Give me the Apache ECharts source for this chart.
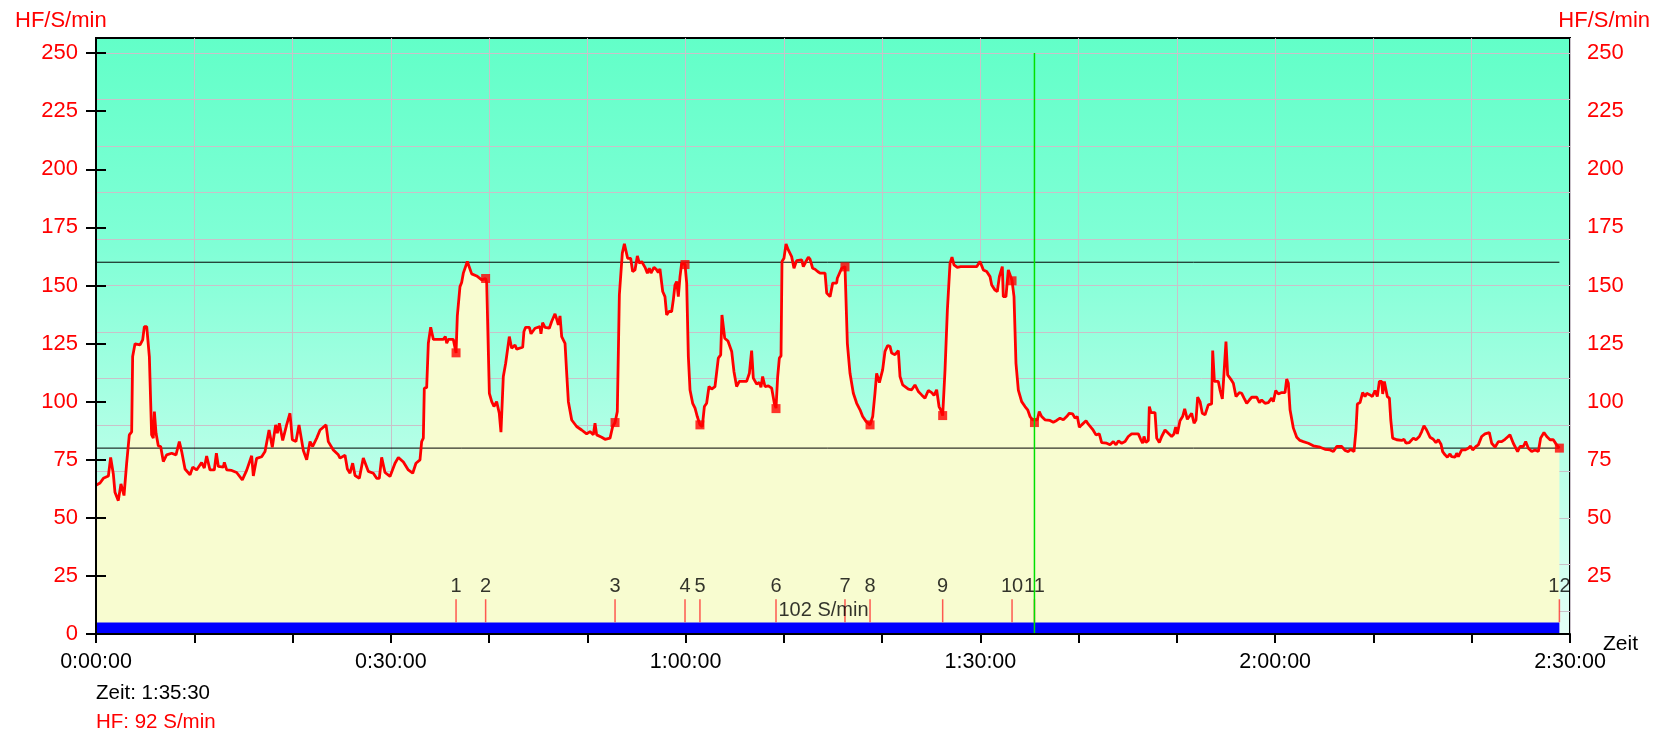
<!DOCTYPE html>
<html>
<head>
<meta charset="utf-8" />
<title>HF</title>
<script src="https://cdn.jsdelivr.net/npm/echarts@6/dist/echarts.min.js"></script>
<style>
    html, body { margin: 0; padding: 0; background: #fff; }
    #main { width: 1661px; height: 735px; }
</style>
</head>
<body>
<div id="main"></div>
<script type="text/javascript">
    // time in minutes, heart rate in S/min
    var hfData = [
        [0, 64], [0.41, 65], [0.75, 67], [1.26, 68], [1.49, 76], [1.76, 69], [1.93, 61], [2.27, 57.4], [2.54, 64.6], [2.85, 59.6],
        [3.12, 73.5], [3.39, 85.7], [3.63, 87], [3.73, 119.4], [3.97, 124.9], [4.48, 124.4], [4.75, 126.6], [4.92, 132.3], [5.16, 132.3], [5.43, 119.4],
        [5.66, 85.7], [5.83, 84.3], [5.94, 95.7], [6.11, 86.4], [6.34, 81], [6.58, 80.7], [6.85, 74.2], [7.19, 77.1], [7.70, 77.8], [8.14, 77.1],
        [8.48, 82.8], [8.72, 78.5], [9.06, 71], [9.57, 68.5], [9.84, 71.8], [10.24, 70.6], [10.75, 73.8], [11.02, 71.4], [11.26, 76.6], [11.60, 70.6],
        [12.04, 70.6], [12.25, 77.8], [12.45, 72.1], [12.96, 71.8], [13.06, 73.9], [13.30, 70.6], [13.81, 70.4], [14.31, 69.5], [14.89, 66.3], [15.33, 70.4],
        [15.84, 76.7], [16.01, 68], [16.35, 75.6], [16.86, 76.3], [17.20, 78.5], [17.61, 87.8], [17.94, 80.4], [18.28, 90], [18.45, 86.4], [18.66, 90.7],
        [19.00, 83.3], [19.40, 90], [19.74, 95], [19.98, 83.6], [20.35, 82.8], [20.66, 90], [21.10, 79], [21.44, 75], [21.78, 82.8], [22.05, 80.7],
        [22.46, 84.3], [22.80, 87.8], [23.41, 90], [23.64, 82.8], [24.15, 79.2], [24.66, 77.1],
        [24.83, 75.7], [25.34, 76.9], [25.58, 71], [25.85, 69.2], [26.12, 73.5], [26.36, 68.2], [26.80, 67], [27.20, 75.7], [27.71, 70], [28.22, 69.2],
        [28.56, 67], [28.83, 67], [29.07, 76], [29.41, 69.5], [29.92, 67.8], [30.43, 73.5], [30.77, 76], [31.28, 74], [31.78, 70.6], [32.23, 69.2],
        [32.56, 73.5], [32.97, 74.9], [33.14, 82.8], [33.31, 84.3], [33.41, 105.8], [33.65, 106], [33.82, 125.1], [34.06, 132], [34.33, 126.8], [35.35, 126.8],
        [35.55, 128], [35.69, 125.1], [35.86, 126.8], [36.36, 126.8], [36.64, 121], [36.77, 136.9], [36.94, 137.3], [37.04, 149.5], [37.21, 151.3], [37.38, 155.3],
        [37.55, 155.3], [37.79, 160.3], [37.99, 160], [38.23, 155], [38.74, 154.1], [39.25, 152.4], [39.65, 153], [39.76, 151], [40.03, 103.6], [40.27, 100],
        [40.50, 97.9], [40.77, 100], [41.04, 95], [41.21, 86.9], [41.45, 110.8], [41.69, 116.5], [41.89, 117.3], [42.06, 128], [42.30, 123], [42.64, 124.4],
        [42.81, 122.6], [43.42, 123.4], [43.55, 130.2], [43.72, 132], [44.10, 132], [44.27, 129.2], [44.68, 131.6], [44.84, 130.9], [45.18, 132.3], [45.28, 129.2],
        [45.45, 134], [45.69, 132], [46.13, 131.6], [46.37, 134.5], [46.71, 137.8], [46.88, 135.5], [47.05, 133], [47.22, 136.9], [47.39, 128], [47.73, 125.1],
        [47.90, 112.2], [48.07, 100], [48.41, 92.1], [48.91, 89.3], [49.42, 87.8], [49.93, 86.1],
        [50.27, 87.1], [50.61, 85.7], [50.78, 90.7], [50.95, 85.7], [51.46, 84.7], [51.80, 83.8], [52.31, 84.3], [52.58, 89.3], [52.82, 91], [53.05, 95.7],
        [53.26, 146], [53.43, 146.6], [53.56, 163.9], [53.77, 167.9], [53.93, 167.5], [54.10, 161.7], [54.41, 161.7], [54.61, 156], [54.85, 156.7], [55.09, 162.7],
        [55.29, 159.6], [55.53, 160.3], [55.87, 157.8], [56.11, 155.3], [56.31, 157.4], [56.48, 155.3], [56.78, 157.8], [57.06, 156.7], [57.22, 155.6], [57.39, 157.1],
        [57.67, 147.4], [57.90, 145.2], [58.07, 137.3], [58.31, 138.8], [58.58, 138.8], [58.75, 143.8], [58.92, 150.2], [59.09, 151.7], [59.26, 145.2], [59.43, 153.8],
        [59.60, 159.6], [59.94, 159.1], [60.11, 151], [60.28, 119.4], [60.45, 105], [60.72, 99.3], [60.96, 97.2], [61.19, 93.6], [61.46, 90], [61.70, 89.3],
        [61.91, 97.9], [62.14, 99.3], [62.38, 106.5], [62.65, 105.4], [62.99, 106.5], [63.33, 118.7], [63.57, 120.1], [63.70, 137.3], [63.84, 138.1], [63.98, 127.3],
        [64.31, 126.1], [64.69, 121.6], [64.92, 113], [65.19, 106.5], [65.47, 108.7], [66.21, 108.7], [66.49, 112.2], [66.72, 122], [66.89, 110.1], [67.23, 107.6],
        [67.50, 108.2], [67.67, 106.2], [67.84, 110.8], [68.08, 106.5], [68.42, 106.8], [68.76, 105.8], [69.03, 99.3], [69.20, 97.2], [69.37, 110.8], [69.54, 118.7],
        [69.71, 119.7], [69.81, 160.3], [70.01, 161.7], [70.22, 167.9], [70.45, 165.3], [70.62, 165.6], [70.79, 162.4], [71.03, 157.4], [71.30, 160.7], [71.81, 161],
        [71.98, 158.1], [72.25, 160.3], [72.49, 162.2], [72.66, 161.3], [72.93, 157.4], [73.17, 157], [73.44, 156], [73.68, 155.3], [74.19, 155.3], [74.36, 146.7],
        [74.70, 145.2], [74.97, 151], [75.37, 151], [75.44, 153.1], [75.64, 152.4], [75.88, 157.4], [76.22, 158.1],
        [76.46, 125.1], [76.73, 112.2], [77.07, 103.6], [77.41, 99.3], [77.75, 96.5], [78.02, 93.6], [78.36, 91.5], [78.77, 90], [79.04, 93.6], [79.27, 103.6],
        [79.44, 112.2], [79.72, 108.2], [80.05, 113.7], [80.29, 121.6], [80.56, 124.1], [80.80, 123.8], [80.97, 120.9], [81.31, 120.2], [81.65, 122], [81.82, 110.8],
        [82.09, 107.2], [82.33, 106.5], [82.67, 105.4], [83.01, 105.1], [83.34, 107.2], [83.68, 104.4], [84.02, 102.9], [84.36, 101.5], [84.70, 104.8], [85.04, 103.9],
        [85.28, 102.7], [85.55, 105.1], [85.79, 97.9], [85.96, 96.5], [86.16, 94], [86.40, 113.7], [86.64, 139.5], [86.91, 159.6], [87.11, 162.2], [87.31, 158.9],
        [87.65, 157.8], [87.99, 158.1], [88.60, 158.1], [89.62, 158.1], [89.96, 160.3], [90.30, 156.7], [90.64, 156], [90.98, 153.8], [91.15, 150.2], [91.49, 148],
        [91.72, 147.4], [91.93, 153.8], [92.23, 158.1], [92.33, 145.2], [92.60, 145.2], [92.84, 156.7], [93.01, 157.1], [93.22, 152.1], [93.42, 145.2], [93.62, 116.5],
        [93.86, 105], [94.20, 100], [94.54, 97.9], [94.81, 96.5], [95.05, 93.6], [95.32, 92.2], [95.50, 92], [95.79, 92.2], [95.99, 95.7], [96.23, 93.6],
        [96.57, 92.2], [97.08, 91.9], [97.42, 91.1], [97.76, 91.9], [98.10, 92.9], [98.44, 92.2], [98.78, 93.6], [99.05, 95], [99.39, 94.7], [99.63, 92.9],
        [99.86, 93.6], [100.07, 89], [100.31, 90], [100.75, 91.8], [100.98, 90.3], [101.42, 88.1],
        [101.76, 85.7], [102.10, 86.1], [102.34, 82.4], [102.85, 82.1], [103.19, 81.4], [103.53, 82.8], [103.80, 81.4], [104.04, 83.1], [104.38, 82.1], [104.72, 82.8],
        [105.05, 85], [105.39, 86.1], [106.07, 86.1], [106.31, 83.8], [106.51, 82.1], [106.65, 85], [106.85, 82.4], [107.09, 83.3], [107.19, 97.9], [107.36, 95.3],
        [107.77, 95.3], [107.94, 84.3], [108.21, 82.4], [108.45, 85], [108.79, 87.8], [109.12, 86.4], [109.46, 85], [109.70, 86.1], [109.87, 89], [110.04, 86.1],
        [110.31, 91.8], [110.58, 93.6], [110.79, 96.9], [111.06, 92.4], [111.26, 92.1], [111.50, 95], [111.74, 90.7], [111.94, 92.1], [112.11, 101.9], [112.35, 100],
        [112.58, 95], [112.86, 94.3], [113.19, 98.6], [113.53, 99], [113.64, 122], [113.81, 108.7], [114.21, 108.7], [114.38, 105.1], [114.62, 101.2], [114.79, 112.2],
        [114.99, 125.8], [115.16, 111.5], [115.47, 109.7], [115.74, 107.9], [116.01, 102.2], [116.35, 103.9], [116.59, 103.6], [116.83, 101.5], [117.10, 99.3], [117.37, 100.7],
        [117.61, 101.9], [118.12, 101.9], [118.39, 99.6], [118.62, 100.7], [118.96, 99.3], [119.30, 99.6], [119.64, 101.5], [119.81, 100], [120.05, 104.8], [120.32, 103.3],
        [120.66, 103.9], [121.00, 103.9], [121.17, 109.7], [121.34, 107.9], [121.51, 96.5], [121.85, 88.6], [122.19, 84.7], [122.52, 83.3], [122.86, 82.8], [123.37, 82.1],
        [123.88, 81], [124.56, 80.4], [125.07, 79.5],
        [125.58, 79.2], [125.92, 78.5], [126.26, 80.7], [126.76, 80.7], [127.10, 79], [127.44, 78.5], [127.68, 79.5], [128.02, 78.5], [128.22, 87.8], [128.36, 99],
        [128.63, 99.6], [128.80, 100], [128.90, 103.9], [129.14, 102.2], [129.31, 103.6], [129.65, 102.9], [129.89, 102.2], [130.16, 104.8], [130.39, 102.2], [130.60, 108.7],
        [130.84, 108.7], [130.94, 103.3], [131.11, 108.7], [131.28, 108.7], [131.41, 102.2], [131.62, 101.5], [131.76, 92.2], [131.95, 84.3], [132.36, 83.6], [132.87, 83.3],
        [133.11, 83.8], [133.31, 82.1], [133.65, 82.4], [134.06, 84.3], [134.33, 83.6], [134.67, 85], [134.91, 87.1], [135.14, 89.6], [135.41, 87.8], [135.75, 84.7],
        [136.09, 83.8], [136.36, 82.4], [136.60, 83.6], [136.87, 81.7], [137.04, 78.5], [137.28, 77.1], [137.52, 76.1], [137.79, 77.5], [137.96, 76.3], [138.30, 76.1],
        [138.47, 77.8], [138.64, 76.3], [138.98, 79.2], [139.31, 79.2], [139.65, 79.9], [139.89, 80.9], [140.09, 79.2], [140.43, 80.7], [140.67, 81.4], [141.01, 85],
        [141.35, 86.1], [141.79, 86.7], [142.03, 82.1], [142.37, 80.4], [142.71, 82.8], [143.05, 82.8], [143.39, 83.8], [143.62, 84.7], [143.89, 85.7], [144.23, 82.1],
        [144.67, 78.5], [144.91, 80.7], [145.25, 80.7], [145.49, 82.8], [145.76, 79.9], [146.10, 78.5], [146.44, 79.2], [146.78, 78.5], [147.01, 84.3], [147.35, 86.7],
        [147.63, 85], [147.97, 83.6], [148.30, 83.6], [148.64, 81.4], [148.92, 80]
    ];

    // Runden (Zwischenzeiten)
    var lapNames = ['1', '2', '3', '4', '5', '6', '7', '8', '9', '10', '11', '12'];
    var lapTimes = [36.64, 39.65, 52.82, 59.94, 61.46, 69.20, 76.22, 78.77, 86.16, 93.22, 95.50, 148.92];
    var lapHF = [121, 153, 91, 159, 90, 97, 158, 90, 94, 152, 91, 80];

    var yTicks = [0, 25, 50, 75, 100, 125, 150, 175, 200, 225, 250];
    var yLabelsRight = [25, 50, 75, 100, 125, 150, 175, 200, 225, 250];
    var yGridLines = [10, 30, 50, 70, 90, 110, 130, 150, 170, 190, 210, 230, 250];
    var xLabels = [0, 30, 60, 90, 120, 150];
    var hfLimits = [160, 80];
    var endTime = 148.92;
    var cursorTime = 95.5;
    var cursorHF = 92;
    var avgText = '102 S/min';
    var avgPos = [69.45, 10.3];

    var FONT = 'Liberation Sans, Arial, sans-serif';

    function fmtTime(m) {
        var s = Math.round(m * 60);
        var h = Math.floor(s / 3600);
        var mm = Math.floor((s % 3600) / 60);
        var ss = s % 60;
        return h + ':' + (mm < 10 ? '0' : '') + mm + ':' + (ss < 10 ? '0' : '') + ss;
    }

    var myChart = echarts.init(document.getElementById('main'));

    var visibleY = function (pos, labels, margin) {
        return {
            type: 'value', position: pos, min: 0, max: 256.5, z: 10,
            axisLine: { show: true, lineStyle: { color: '#000', width: 2 } },
            axisTick: { show: true, length: 10, customValues: yTicks, lineStyle: { color: '#000', width: 2 } },
            axisLabel: { customValues: labels, color: '#ff0000', fontSize: 22, fontFamily: FONT, margin: margin },
            splitLine: { show: false }
        };
    };

    var limitSeries = hfLimits.map(function (v) {
        return {
            type: 'line', z: 3, silent: true, symbol: 'none',
            data: [[0, v], [endTime, v]],
            lineStyle: { color: '#000', width: 1 }
        };
    });

    var option = {
        animation: false,
        grid: {
            left: 96, right: 91, top: 38, bottom: 101,
            show: true,
            borderColor: '#000', borderWidth: 2,
            backgroundColor: new echarts.graphic.LinearGradient(0, 0, 0, 1, [
                { offset: 0, color: '#62ffc8' },
                { offset: 0.35, color: '#80ffd6' },
                { offset: 1, color: '#e4fff6' }
            ])
        },
        xAxis: [
            {
                type: 'value', min: 0, max: 150, interval: 10, z: 10,
                name: 'Zeit', nameLocation: 'end', nameGap: 33, nameMoveOverlap: false,
                nameTextStyle: { color: '#000', fontSize: 21, fontFamily: FONT, verticalAlign: 'top' },
                axisLine: { show: true, lineStyle: { color: '#000', width: 2 } },
                axisTick: { show: true, length: 9, lineStyle: { color: '#000', width: 2 } },
                axisLabel: { customValues: xLabels, formatter: fmtTime, color: '#000', fontSize: 21.5, fontFamily: FONT, margin: 17 },
                splitLine: { show: false }
            },
            {
                type: 'value', min: 0, max: 150, interval: 10, position: 'top',
                axisLine: { show: false }, axisTick: { show: false }, axisLabel: { show: false },
                splitLine: { show: true, lineStyle: { color: '#c9c1c9', width: 1 } }
            }
        ],
        yAxis: [
            visibleY('left', yTicks, 18),
            visibleY('right', yLabelsRight, 17),
            {
                type: 'value', min: 0, max: 256.5, position: 'left',
                axisLine: { show: false },
                axisTick: { show: false, customValues: yGridLines },
                axisLabel: { show: false },
                splitLine: { show: true, lineStyle: { color: '#c9c1c9', width: 1 } }
            }
        ],
        graphic: [
            { type: 'text', left: 15, top: 10, style: { text: 'HF/S/min', fill: '#ff0000', font: '22px ' + FONT } },
            { type: 'text', right: 11, top: 10, style: { text: 'HF/S/min', fill: '#ff0000', font: '22px ' + FONT } },
            { type: 'text', left: 96, top: 683, style: { text: 'Zeit: ' + fmtTime(cursorTime), fill: '#000', font: '20.5px ' + FONT } },
            { type: 'text', left: 96, top: 712, style: { text: 'HF: ' + cursorHF + ' S/min', fill: '#ff0000', font: '20.5px ' + FONT } }
        ],
        series: [
            {
                name: 'HF Fläche', type: 'line', z: 2, silent: true, symbol: 'none',
                data: hfData,
                lineStyle: { width: 0 },
                areaStyle: { color: '#f8fcd0', opacity: 1 }
            },
            {
                name: 'Balken', type: 'line', z: 3, silent: true, symbol: 'none',
                data: [[0, 5], [endTime, 5]],
                lineStyle: { width: 0 },
                areaStyle: { color: '#0000ff', opacity: 1 }
            }
        ].concat(limitSeries).concat([
            {
                name: 'Runden', type: 'scatter', z: 4, silent: true,
                symbol: 'rect', symbolSize: [1.5, 23],
                itemStyle: { color: '#ff3030' },
                data: lapTimes.map(function (t) { return [t, 10]; }),
                label: {
                    show: true, position: 'top', distance: 3,
                    color: '#000', fontSize: 20, fontFamily: FONT,
                    formatter: function (p) { return lapNames[p.dataIndex]; }
                }
            },
            {
                name: 'Schnitt', type: 'scatter', z: 4, silent: true,
                symbolSize: 0,
                data: [avgPos],
                label: { show: true, position: 'right', distance: 0, color: '#000', fontSize: 20, fontFamily: FONT, formatter: avgText }
            },
            {
                name: 'HF', type: 'line', z: 5, symbol: 'none',
                data: hfData,
                lineStyle: { color: '#ff0000', width: 2.8 }
            },
            {
                name: 'Rundenmarken', type: 'scatter', z: 6, silent: true,
                symbol: 'rect', symbolSize: 9,
                itemStyle: { color: '#ff0000' },
                data: lapTimes.map(function (t, i) { return [t, lapHF[i]]; })
            },
            {
                name: 'Cursor', type: 'line', z: 7, silent: true, symbol: 'none',
                data: [[cursorTime, 0], [cursorTime, 250]],
                lineStyle: { color: '#00e000', width: 1.5 }
            }
        ])
    };

    myChart.setOption(option);
</script>
</body>
</html>
